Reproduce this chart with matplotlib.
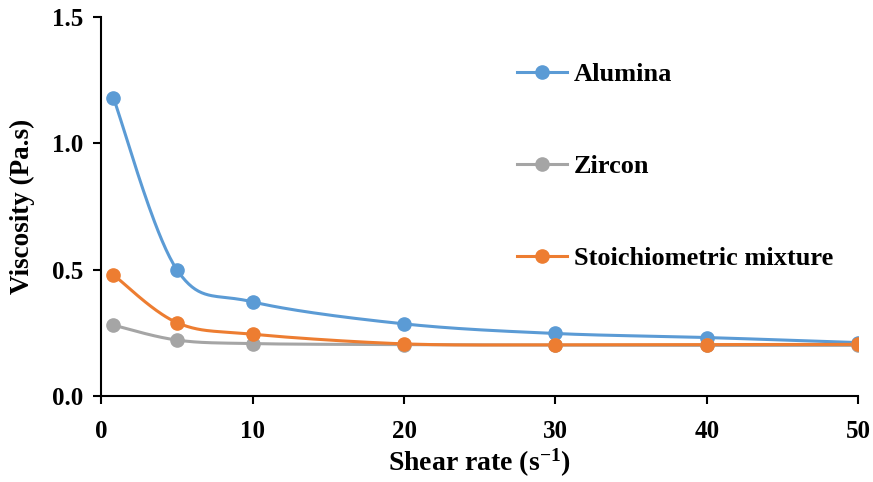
import numpy as np
import matplotlib
matplotlib.use("Agg")
import matplotlib.pyplot as plt

plt.rcParams['font.family'] = ['Liberation Serif', 'DejaVu Serif']
plt.rcParams['mathtext.fontset'] = 'custom'
plt.rcParams['mathtext.rm'] = 'Liberation Serif'

shear_rate = [0.8, 5, 10, 20, 30, 40, 50]
alumina = [1.18, 0.50, 0.373, 0.286, 0.248, 0.232, 0.212]
zircon = [0.281, 0.222, 0.208, 0.204, 0.202, 0.201, 0.201]
mixture = [0.48, 0.291, 0.245, 0.207, 0.203, 0.204, 0.205]

series_names = ["Alumina", "Zircon", "Stoichiometric mixture"]
series_colors = ["#5B9BD5", "#A5A5A5", "#ED7D31"]

x_ticks = [0, 10, 20, 30, 40, 50]
y_ticks = [0.0, 0.5, 1.0, 1.5]


def smooth(x, y, n=40):
    """Catmull-Rom style cubic Bezier smoothing through every point."""
    x = np.asarray(x, float)
    y = np.asarray(y, float)
    pts = np.column_stack([x, y])
    out = []
    for i in range(len(pts) - 1):
        p0 = pts[i - 1] if i > 0 else pts[i]
        p1 = pts[i]
        p2 = pts[i + 1]
        p3 = pts[i + 2] if i + 2 < len(pts) else pts[i + 1]
        c1 = p1 + (p2 - p0) / 6.0
        c2 = p2 - (p3 - p1) / 6.0
        t = np.linspace(0, 1, n)[:, None]
        seg = ((1 - t) ** 3) * p1 + 3 * ((1 - t) ** 2) * t * c1 \
            + 3 * (1 - t) * t ** 2 * c2 + t ** 3 * p2
        out.append(seg if i == 0 else seg[1:])
    s = np.vstack(out)
    return s[:, 0], s[:, 1]


fig = plt.figure(figsize=(8.73, 4.82), dpi=100)
ax = fig.add_axes([0.116, 0.178, 0.867, 0.787])

for vals, name, col in [(alumina, series_names[0], series_colors[0]),
                        (zircon, series_names[1], series_colors[1]),
                        (mixture, series_names[2], series_colors[2])]:
    sx, sy = smooth(shear_rate, vals)
    ax.plot(sx, sy, color=col, lw=2.2, solid_capstyle='round', zorder=2)
    ax.plot(shear_rate, vals, 'o', color=col, ms=9.5, zorder=3)
    ax.plot([], [], '-o', color=col, lw=2.2, ms=9.5, label=name)

ax.set_xlim(0, 50)
ax.set_ylim(0, 1.5)
ax.set_xticks(x_ticks)
ax.set_yticks(y_ticks)
ax.set_yticklabels([f"{v:.1f}" for v in y_ticks])
ax.tick_params(direction='out', length=6, width=1.5, labelsize=18)
ax.tick_params(axis='x', pad=11)
ax.tick_params(axis='y', pad=7)
for lbl in ax.get_xticklabels() + ax.get_yticklabels():
    lbl.set_fontweight('bold')
for side in ('top', 'right'):
    ax.spines[side].set_visible(False)
for side in ('left', 'bottom'):
    ax.spines[side].set_linewidth(1.5)
    ax.spines[side].set_color('black')

ax.set_ylabel("Viscosity (Pa.s)", fontsize=19.5, fontweight='bold', labelpad=12)
ax.set_xlabel(r"Shear rate ($\mathregular{s^{-1}}$)", fontsize=20,
              fontweight='bold', labelpad=3)

leg = ax.legend(loc='upper left', bbox_to_anchor=(0.518, 0.942), frameon=False,
                labelspacing=2.6, handlelength=1.9,
                handletextpad=0.25, prop={'weight': 'bold', 'size': 19})

fig.savefig("out.png", dpi=100)
